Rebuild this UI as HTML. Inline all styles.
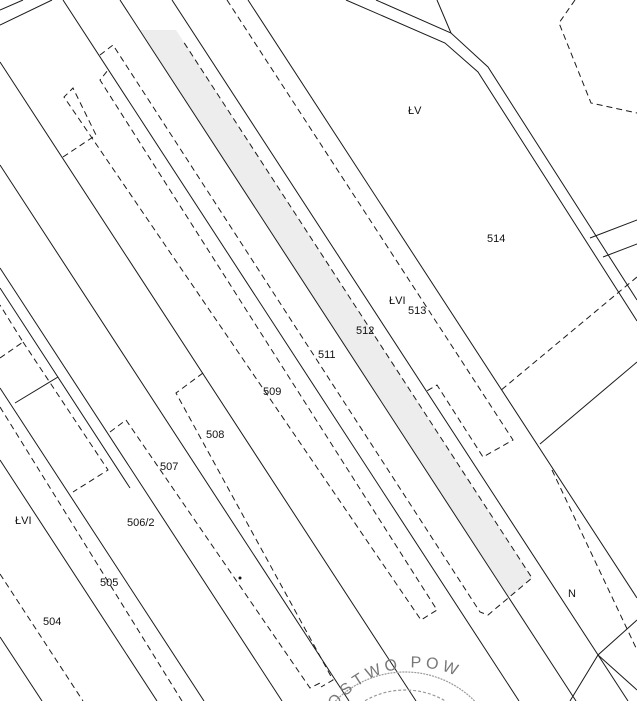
<!DOCTYPE html>
<html><head><meta charset="utf-8"><style>
html,body{margin:0;padding:0;background:#fff;overflow:hidden;}
svg{display:block;}
text{font-family:"Liberation Sans",sans-serif;font-size:11px;fill:#111;}
</style></head><body>
<svg width="637" height="701" viewBox="0 0 637 701" xmlns="http://www.w3.org/2000/svg">
<rect width="637" height="701" fill="#fff"/>
<polygon points="140,30 176,30 532,578 508,597" fill="#ededed"/>
<g stroke="#1a1a1a" stroke-width="1" fill="none">
<line x1="63" y1="0" x2="519" y2="701"/>
<line x1="120" y1="0" x2="576" y2="701"/>
<line x1="172" y1="0" x2="628" y2="701"/>
<line x1="248" y1="0" x2="637" y2="598"/>
<line x1="0" y1="62" x2="416" y2="701"/>
<line x1="0" y1="165" x2="349" y2="701"/>
<line x1="0" y1="268" x2="282" y2="701"/>
<line x1="0" y1="288" x2="130" y2="488"/>
<line x1="0" y1="388" x2="204" y2="701"/>
<line x1="0" y1="460" x2="157" y2="701"/>
<line x1="0" y1="637" x2="42" y2="701"/>
<line x1="0" y1="10" x2="23" y2="0"/>
<line x1="0" y1="25" x2="52" y2="0"/>
<line x1="15" y1="403" x2="58" y2="377"/>
<polyline points="346,0 445,43 478,72 637,321"/>
<polyline points="376,0 451,33 488,67 637,300"/>
<line x1="437" y1="0" x2="451" y2="33"/>
<line x1="590" y1="238" x2="637" y2="220"/>
<line x1="603" y1="257" x2="637" y2="244"/>
<line x1="637" y1="362" x2="540" y2="444"/>
<polyline points="570,701 598,655 637,620"/>
<line x1="598" y1="655" x2="637" y2="690"/>
</g>
<g stroke="#1a1a1a" stroke-width="1" fill="none" stroke-dasharray="6,4">
<polyline points="63,157 96,135 73,88 64,97 421,620 437,610 100,80 108,70"/>
<polyline points="100,55 113,45 480,612 488,615 532,578 183,41"/>
<polyline points="227,0 513,440 483,457 437,385 425,392"/>
<polyline points="0,358 23,342 0,305"/>
<polyline points="23,342 108,470 73,492"/>
<line x1="0" y1="407" x2="182" y2="701"/>
<line x1="0" y1="574" x2="83" y2="701"/>
<polyline points="110,432 126,420 310,688 320,683"/>
<polyline points="203,373 176,393 333,680 321,687"/>
<polyline points="575,0 559,23 591,103 637,113"/>
<line x1="637" y1="277" x2="500" y2="391"/>
<line x1="552" y1="470" x2="637" y2="650"/>
</g>
<g fill="none" stroke="#999" stroke-width="1.2">
<circle cx="405" cy="770" r="98" stroke-dasharray="2,1"/>
<circle cx="405" cy="770" r="80" stroke-dasharray="3,2"/>
</g>
<path id="arc" d="M 335 709 A 100 100 0 0 1 490 700" fill="none"/>
<text style="font-size:16px;fill:#777;letter-spacing:4px"><textPath href="#arc" startOffset="0">OSTWO POW</textPath></text>
<circle cx="240" cy="578" r="1.5" fill="#111"/>
<text x="408" y="114">ŁV</text>
<text x="487" y="242">514</text>
<text x="389" y="304">ŁVI</text>
<text x="408" y="314">513</text>
<text x="356" y="334">512</text>
<text x="318" y="358">511</text>
<text x="263" y="395">509</text>
<text x="206" y="438">508</text>
<text x="160" y="470">507</text>
<text x="127" y="526">506/2</text>
<text x="15" y="524">ŁVI</text>
<text x="100" y="586">505</text>
<text x="43" y="625">504</text>
<text x="568" y="597">N</text>
</svg>
</body></html>
